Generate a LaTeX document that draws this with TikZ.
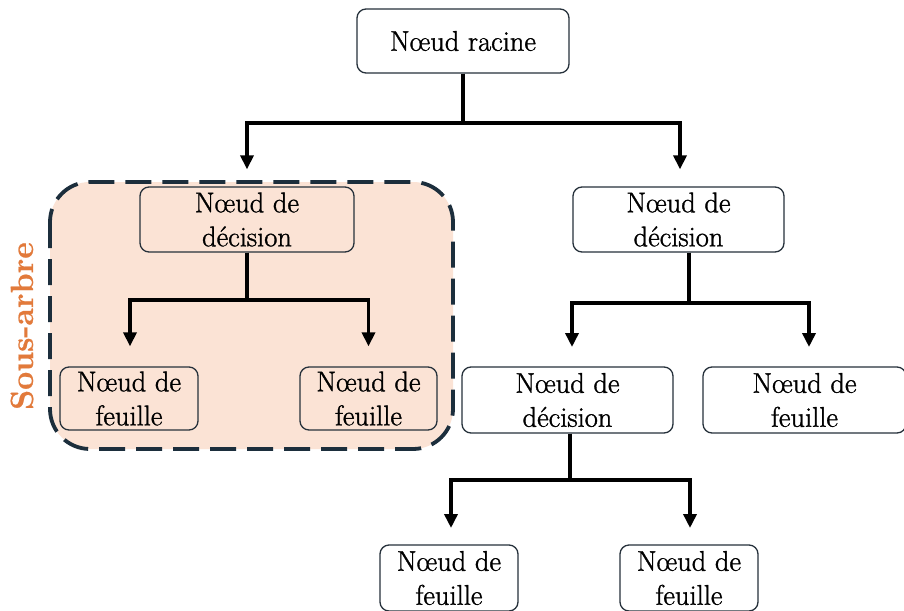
\documentclass[tikz,border=0pt]{standalone}
\usepackage{fontspec}
\newfontfamily\treefont{Latin Modern Roman}[FakeBold=1.2]
\newfontfamily\labelfont{Latin Modern Roman}[FakeBold=0.6]
\usetikzlibrary{arrows.meta}
\definecolor{boxline}{HTML}{26313B}
\definecolor{subfill}{HTML}{FBE3D5}
\definecolor{subline}{HTML}{1C2E3C}
\definecolor{suborange}{HTML}{E27A3B}
\tikzset{
  treebox/.style={draw=boxline, line width=1.3pt, rounded corners=9pt,
    align=center, inner sep=0pt, font=\treefont\fontsize{28.5}{34}\selectfont},
  arr/.style={line width=3.8pt, -{Triangle[length=14pt,width=13pt]}},
}
\begin{document}
\begin{tikzpicture}[x=1pt,y=-1pt]
\path[use as bounding box, clip] (0,0) rectangle (904,610);
\fill[white] (0,0) rectangle (904,610);

% sub-tree frame
\draw[fill=subfill, draw=subline, line width=3.8pt, dash pattern=on 26pt off 11pt,
  rounded corners=40pt] (50,182) rectangle (453,449);
\node[rotate=90, text=suborange, font=\labelfont\fontsize{32}{36}\selectfont\bfseries]
  (sublabel) at (22,326) {Sous-arbre};

% nodes
\node[treebox, minimum width=212pt, minimum height=64pt] (root) at (463,41) {N\oe ud racine};
\node[treebox, minimum width=214pt, minimum height=65pt] (ldec) at (247,219.5) {N\oe ud de\\décision};
\node[treebox, minimum width=211pt, minimum height=65pt] (rdec) at (678.5,219.5) {N\oe ud de\\décision};
\node[treebox, minimum width=138pt, minimum height=63pt] (lleafa) at (129,398.5) {N\oe ud de\\feuille};
\node[treebox, minimum width=137pt, minimum height=63pt] (lleafb) at (368.5,398.5) {N\oe ud de\\feuille};
\node[treebox, minimum width=211pt, minimum height=66pt] (mdec) at (567.5,400) {N\oe ud de\\décision};
\node[treebox, minimum width=203pt, minimum height=66pt] (rleaf) at (804.5,400) {N\oe ud de\\feuille};
\node[treebox, minimum width=138pt, minimum height=66pt] (bleafa) at (449,578) {N\oe ud de\\feuille};
\node[treebox, minimum width=138pt, minimum height=66pt] (bleafb) at (689,578) {N\oe ud de\\feuille};

% junctions and arrow ends
\coordinate (jroot) at (463,123);
\coordinate (jleft) at (247,300);
\coordinate (jright) at (689,303);
\coordinate (jmid) at (570,480);
\coordinate (tmd) at (572,347);
\coordinate (trl) at (809,347);
\coordinate (tba) at (451,528);
\coordinate (tbb) at (690,528);

% connectors
\draw[arr, shorten >=17pt] (root) -- (jroot) -| (ldec.north);
\draw[arr, shorten >=17pt] (root) -- (jroot) -| (rdec.north -| 680,0);
\draw[arr, shorten >=20pt] (ldec) -- (jleft) -| (lleafa.north -| 130,0);
\draw[arr, shorten >=20pt] (ldec) -- (jleft) -| (lleafb.north);
\draw[arr] (rdec.south -| jright) -- (jright) -| (tmd);
\draw[arr] (rdec.south -| jright) -- (jright) -| (trl);
\draw[arr] (mdec.south -| jmid) -- (jmid) -| (tba);
\draw[arr] (mdec.south -| jmid) -- (jmid) -| (tbb);
\end{tikzpicture}
\end{document}
